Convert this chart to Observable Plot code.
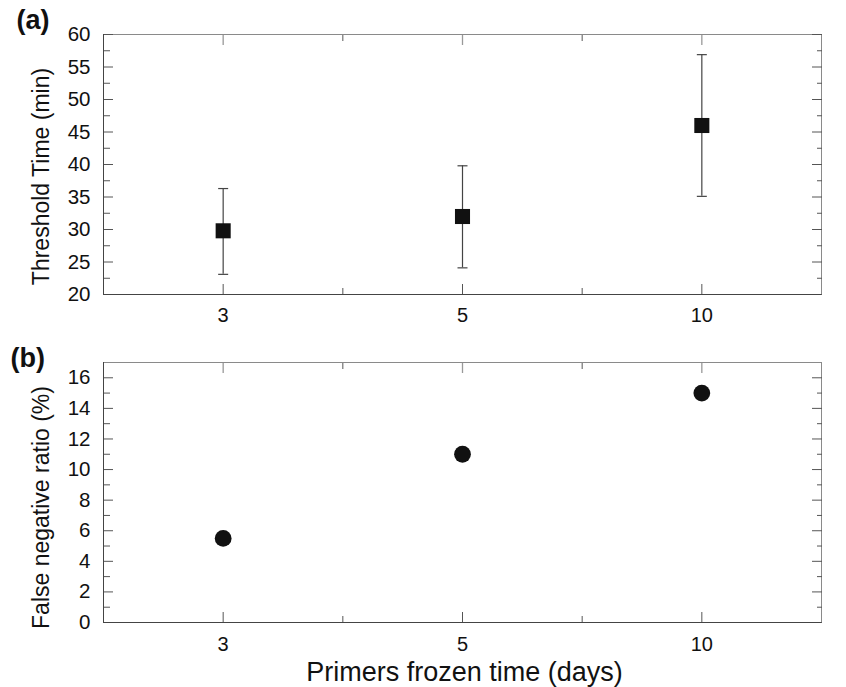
<!DOCTYPE html>
<html>
<head>
<meta charset="utf-8">
<script src="https://cdn.jsdelivr.net/npm/d3@7"></script>
<script src="https://cdn.jsdelivr.net/npm/@observablehq/plot@0.6"></script>
<style>
  html, body { margin: 0; padding: 0; background: #fff; }
  #chart { width: 846px; }
  #chart svg { display: block; }
</style>
</head>
<body>
<div id="chart"></div>
<script>
// ---- data ----
const categories = ["3", "5", "10"];            // primers frozen time (days)
const thresholdMean = [29.8, 32.0, 46.0];       // threshold time (min)
const thresholdLow = [23.1, 24.1, 35.1];
const thresholdHigh = [36.3, 39.8, 56.9];
const falseNegative = [5.5, 11.0, 15.0];        // false negative ratio (%)
const yTicksA = [20, 25, 30, 35, 40, 45, 50, 55, 60];
const yMinorA = [22.5, 27.5, 32.5, 37.5, 42.5, 47.5, 52.5, 57.5];
const yTicksB = [0, 2, 4, 6, 8, 10, 12, 14, 16];
const yMinorB = [1, 3, 5, 7, 9, 11, 13, 15];

const rowsA = categories.map((c, i) => ({pos: i + 1, cat: c, mean: thresholdMean[i], lo: thresholdLow[i], hi: thresholdHigh[i]}));
const rowsB = categories.map((c, i) => ({pos: i + 1, cat: c, v: falseNegative[i]}));
const xMajor = categories.map((c, i) => i + 1);
const xMinor = [1.5, 2.5];

const FONT = "'Liberation Sans', Arial, Helvetica, sans-serif";
const TICK = "#555";

const capSymbol = {
  draw(context, size) {
    const h = Math.sqrt(size / Math.PI);
    context.moveTo(-h, 0);
    context.lineTo(h, 0);
  }
};

function axisMarks(yMajor, yMinor, xPad) {
  const blank = () => "";
  return [
    Plot.frame({stroke: "#8a8a8a"}),
    Plot.axisX(xMajor, {anchor: "bottom", tickSize: 0, tickPadding: xPad, tickFormat: d => categories[d - 1], fontSize: 20, fill: "#111", label: null}),
    Plot.axisX(xMajor, {anchor: "bottom", tickSize: -10, tickFormat: blank, stroke: TICK, label: null}),
    Plot.axisX(xMajor, {anchor: "top", tickSize: -10, tickFormat: blank, stroke: "#999", strokeWidth: 1.3, label: null}),
    Plot.axisX(xMinor, {anchor: "bottom", tickSize: -6, tickFormat: blank, stroke: TICK, label: null}),
    Plot.axisX(xMinor, {anchor: "top", tickSize: -6, tickFormat: blank, stroke: TICK, label: null}),
    Plot.axisY(yMajor, {anchor: "left", tickSize: 0, tickPadding: 13, fontSize: 20.5, fill: "#111", label: null}),
    Plot.axisY(yMajor, {anchor: "left", tickSize: -10, tickFormat: blank, stroke: TICK, label: null}),
    Plot.axisY(yMajor, {anchor: "right", tickSize: -10, tickFormat: blank, stroke: TICK, label: null}),
    Plot.axisY(yMinor, {anchor: "left", tickSize: -7, tickFormat: blank, stroke: TICK, label: null}),
    Plot.axisY(yMinor, {anchor: "right", tickSize: -5, tickFormat: blank, stroke: TICK, label: null})
  ];
}

const plotA = Plot.plot({
  width: 846,
  height: 330,
  marginTop: 34,
  marginBottom: 36,
  marginLeft: 103,
  marginRight: 25,
  style: {fontFamily: FONT, background: "#fff", color: "#111"},
  x: {domain: [0.5, 3.5], label: null},
  y: {domain: [20, 60], label: null},
  marks: [
    ...axisMarks(yTicksA, yMinorA, 13),
    Plot.ruleY([20], {stroke: "#444"}),
    Plot.ruleX([0.5], {stroke: "#444"}),
    Plot.ruleX(rowsA, {x: "pos", y1: "lo", y2: "hi", stroke: "#444", strokeWidth: 1.2}),
    Plot.dot(rowsA, {x: "pos", y: "lo", symbol: capSymbol, r: 5, stroke: "#444", strokeWidth: 1.2, fill: "none"}),
    Plot.dot(rowsA, {x: "pos", y: "hi", symbol: capSymbol, r: 5, stroke: "#444", strokeWidth: 1.2, fill: "none"}),
    Plot.dot(rowsA, {x: "pos", y: "mean", symbol: "square", r: 8.5, fill: "#111", stroke: "none"}),
    Plot.text(["Threshold Time (min)"], {frameAnchor: "left", dx: -62, dy: 12, rotate: -90, fontSize: 23, fill: "#111", textAnchor: "middle"}),
    Plot.text(["(a)"], {frameAnchor: "top-left", dx: -87, dy: -6, lineAnchor: "bottom", textAnchor: "start", fontSize: 27, fontWeight: "bold", fill: "#111"})
  ]
});

const plotB = Plot.plot({
  width: 846,
  height: 357,
  marginTop: 32,
  marginBottom: 65,
  marginLeft: 103,
  marginRight: 25,
  style: {fontFamily: FONT, background: "#fff", color: "#111"},
  x: {domain: [0.5, 3.5], label: null},
  y: {domain: [0, 17], label: null},
  marks: [
    ...axisMarks(yTicksB, yMinorB, 14),
    Plot.ruleY([0], {stroke: "#444"}),
    Plot.ruleX([0.5], {stroke: "#444"}),
    Plot.dot(rowsB, {x: "pos", y: "v", symbol: "circle", r: 8.4, fill: "#111", stroke: "none"}),
    Plot.text(["False negative ratio (%)"], {frameAnchor: "left", dx: -62, dy: 15, rotate: -90, fontSize: 23, fill: "#111", textAnchor: "middle"}),
    Plot.text(["(b)"], {frameAnchor: "top-left", dx: -93, dy: 4, lineAnchor: "bottom", textAnchor: "start", fontSize: 27, fontWeight: "bold", fill: "#111"}),
    Plot.text(["Primers frozen time (days)"], {frameAnchor: "bottom", dx: 2, dy: 58, lineAnchor: "bottom", textAnchor: "middle", fontSize: 27, fill: "#111"})
  ]
});

const root = document.getElementById("chart");
root.appendChild(plotA);
root.appendChild(plotB);
</script>
</body>
</html>
